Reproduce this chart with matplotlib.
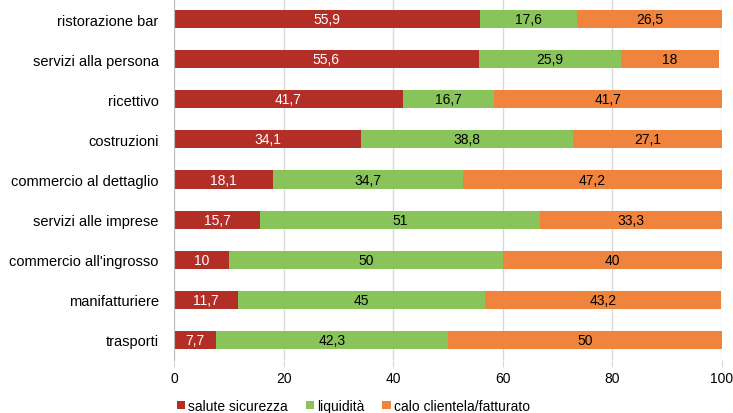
import numpy as np
import matplotlib.pyplot as plt

plt.rcParams['font.family'] = ['Liberation Sans', 'DejaVu Sans']

categorie = ['ristorazione bar', 'servizi alla persona', 'ricettivo', 'costruzioni',
             'commercio al dettaglio', 'servizi alle imprese', "commercio all'ingrosso",
             'manifatturiere', 'trasporti']
salute = [55.9, 55.6, 41.7, 34.1, 18.1, 15.7, 10, 11.7, 7.7]
liquidita = [17.6, 25.9, 16.7, 38.8, 34.7, 51, 50, 45, 42.3]
calo = [26.5, 18, 41.7, 27.1, 47.2, 33.3, 40, 43.2, 50]

serie = [('salute sicurezza', salute, '#B22E26', 'white'),
         ('liquidità', liquidita, '#88C45A', 'black'),
         ('calo clientela/fatturato', calo, '#F0843D', 'black')]

def fmt(v):
    s = ('%.1f' % v).rstrip('0').rstrip('.')
    return s.replace('.', ',')

fig = plt.figure(figsize=(7.33, 4.14), dpi=100)
ax = fig.add_axes([0.2374, 0.128, 0.7476, 0.872])

y = np.arange(len(categorie))
left = np.zeros(len(categorie))
for nome, vals, col, tcol in serie:
    vals = np.array(vals, dtype=float)
    bars = ax.barh(y, vals, left=left, height=0.45, color=col, label=nome, zorder=2)
    ax.bar_label(bars, labels=[fmt(v) for v in vals], label_type='center',
                 color=tcol, fontsize=10)
    left += vals

ax.set_ylim(len(categorie) - 0.5, -0.5)
ax.set_xlim(0, 100)
ax.set_xticks(range(0, 101, 20))
ax.set_yticks(y)
ax.set_yticklabels(categorie, fontsize=10.5)
ax.tick_params(axis='x', labelsize=10, length=5, color='#d9d9d9', pad=3)
ax.tick_params(axis='y', length=0, pad=11)
ax.grid(axis='x', color='#d9d9d9', linewidth=1, zorder=0)
for s in ['top', 'right', 'bottom']:
    ax.spines[s].set_visible(False)
ax.spines['left'].set_color('#bfbfbf')

fig.legend(loc='lower center', bbox_to_anchor=(0.482, -0.03), ncol=3, frameon=False,
           fontsize=10, handlelength=0.6, handleheight=0.6, handletextpad=0.2,
           columnspacing=1.3)

fig.savefig('out.png', dpi=100)
